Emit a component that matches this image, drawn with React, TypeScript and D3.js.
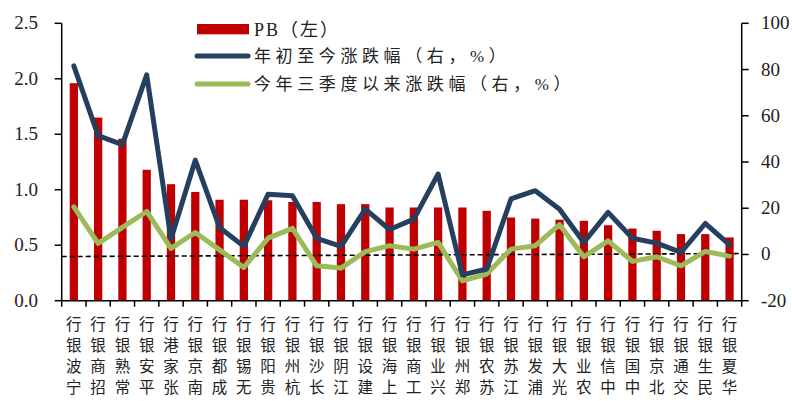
import React from "react";
import * as d3 from "d3";

const categories = ["宁波银行","招商银行","常熟银行","平安银行","张家港行","南京银行","成都银行","无锡银行","贵阳银行","杭州银行","长沙银行","江阴银行","建设银行","上海银行","工商银行","兴业银行","郑州银行","苏农银行","江苏银行","浦发银行","光大银行","农业银行","中信银行","中国银行","北京银行","交通银行","民生银行","华夏银行"];
const pb = [1.96,1.65,1.46,1.18,1.05,0.98,0.91,0.91,0.905,0.89,0.89,0.87,0.87,0.84,0.84,0.84,0.84,0.81,0.75,0.74,0.73,0.72,0.68,0.65,0.63,0.60,0.60,0.57];
const ytd = [81.6,51.4,47.5,77.7,6.7,40.8,11.7,3.5,26.1,25.4,7.0,3.5,19.6,10.8,15.3,34.8,-8.8,-6.3,24.0,27.6,19.6,5.2,18.2,7.0,4.9,0.9,13.4,4.1];
const q3 = [20.6,4.8,11.7,18.6,2.6,9.5,2.0,-5.6,7.1,11.3,-4.9,-5.9,1.2,3.8,2.3,5.2,-11.4,-8.5,2.3,3.8,12.9,-1.0,5.9,-3.0,-1.0,-4.9,1.3,-0.7];
const leftTicks = [0, 0.5, 1.0, 1.5, 2.0, 2.5];
const rightTicks = [-20, 0, 20, 40, 60, 80, 100];
const refLine = [-0.9, 0.4];
const legendLabels = ["PB（左）", "年初至今涨跌幅（右，%）", "今年三季度以来涨跌幅（右，%）"];

const RED = "#C00000";
const BLUE = "#243F60";
const GREEN = "#9BBB59";

export default function App() {
  const W = 792, H = 401;
  const x0 = 61.7, x1 = 741.7, yTop = 23.3, yBot = 300.7;
  const x = d3.scaleBand<string>().domain(categories).range([x0, x1]).padding(0);
  const yL = d3.scaleLinear().domain([0, 2.5]).range([yBot, yTop]);
  const yR = d3.scaleLinear().domain([-20, 100]).range([yBot, yTop]);
  const bw = x.bandwidth() * 0.34;
  const cx = (c: string) => (x(c) as number) + x.bandwidth() / 2;
  const line = d3.line<number>().x((_, i) => cx(categories[i])).y(d => yR(d));
  const numFont = "'Liberation Serif', serif";
  const cjkFont = "'Liberation Serif', 'Noto Sans CJK SC', sans-serif";
  const boundaries = [...categories.map(c => x(c) as number), x1];

  return (
    <div style={{ position: "absolute", left: 0, top: 0, width: W, height: H, background: "#fff" }}>
    <svg width={W} height={H} viewBox={`0 0 ${W} ${H}`} style={{ display: "block" }}>
      {categories.map((c, i) => (
        <rect key={c} x={cx(c) - bw / 2} y={yL(pb[i])} width={bw} height={yBot - yL(pb[i])} fill={RED} />
      ))}
      <line x1={x0} x2={x1} y1={yR(refLine[0])} y2={yR(refLine[1])} stroke="#000" strokeWidth={1.6} strokeDasharray="5,3" />
      <path d={line(q3) || ""} fill="none" stroke={GREEN} strokeWidth={5} strokeLinejoin="round" strokeLinecap="round" />
      <path d={line(ytd) || ""} fill="none" stroke={BLUE} strokeWidth={5} strokeLinejoin="round" strokeLinecap="round" />
      <line x1={x0} x2={x0} y1={yTop} y2={yBot} stroke="#000" strokeWidth={1.5} />
      <line x1={x1} x2={x1} y1={yTop} y2={yBot} stroke="#000" strokeWidth={1.5} />
      <line x1={x0} x2={x1} y1={yBot} y2={yBot} stroke="#000" strokeWidth={1.5} />
      {leftTicks.map(t => (
        <g key={"l" + t}>
          <line x1={x0 - 7} x2={x0} y1={yL(t)} y2={yL(t)} stroke="#000" strokeWidth={1.5} />
          <text x={38} y={yL(t) + 6} textAnchor="end" fontFamily={numFont} fontSize={19} fill="#222">{t.toFixed(1)}</text>
        </g>
      ))}
      {rightTicks.map(t => (
        <g key={"r" + t}>
          <line x1={x1} x2={x1 + 7} y1={yR(t)} y2={yR(t)} stroke="#000" strokeWidth={1.5} />
          <text x={761} y={yR(t) + 6} textAnchor="start" fontFamily={numFont} fontSize={19} fill="#222">{t}</text>
        </g>
      ))}
      {boundaries.map((b, i) => (
        <line key={"t" + i} x1={b} x2={b} y1={yBot} y2={yBot + 6} stroke="#000" strokeWidth={1.5} />
      ))}
      {categories.map(c => (
        <g key={"xl" + c}>
          {Array.from(c).map((ch, j) => (
            <text key={j} x={cx(c)} y={387 + 5.5 - j * 21} textAnchor="middle" fontFamily="'Noto Sans CJK SC', sans-serif" fontSize={15.5} fill="#222">{ch}</text>
          ))}
        </g>
      ))}
      <rect x={197} y={24} width={52} height={10.3} fill={RED} />
      <text x={254} y={35.5} fontFamily={cjkFont} fontSize={18} letterSpacing={2} fill="#222">{legendLabels[0]}</text>
      <line x1={197} x2={248} y1={56} y2={56} stroke={BLUE} strokeWidth={5} strokeLinecap="round" />
      <text x={254} y={62} fontFamily={cjkFont} fontSize={17} letterSpacing={4.6} fill="#222">{legendLabels[1]}</text>
      <line x1={197} x2={248} y1={84} y2={84} stroke={GREEN} strokeWidth={5} strokeLinecap="round" />
      <text x={254} y={90} fontFamily={cjkFont} fontSize={17} letterSpacing={4.6} fill="#222">{legendLabels[2]}</text>
    </svg>
    </div>
  );
}
